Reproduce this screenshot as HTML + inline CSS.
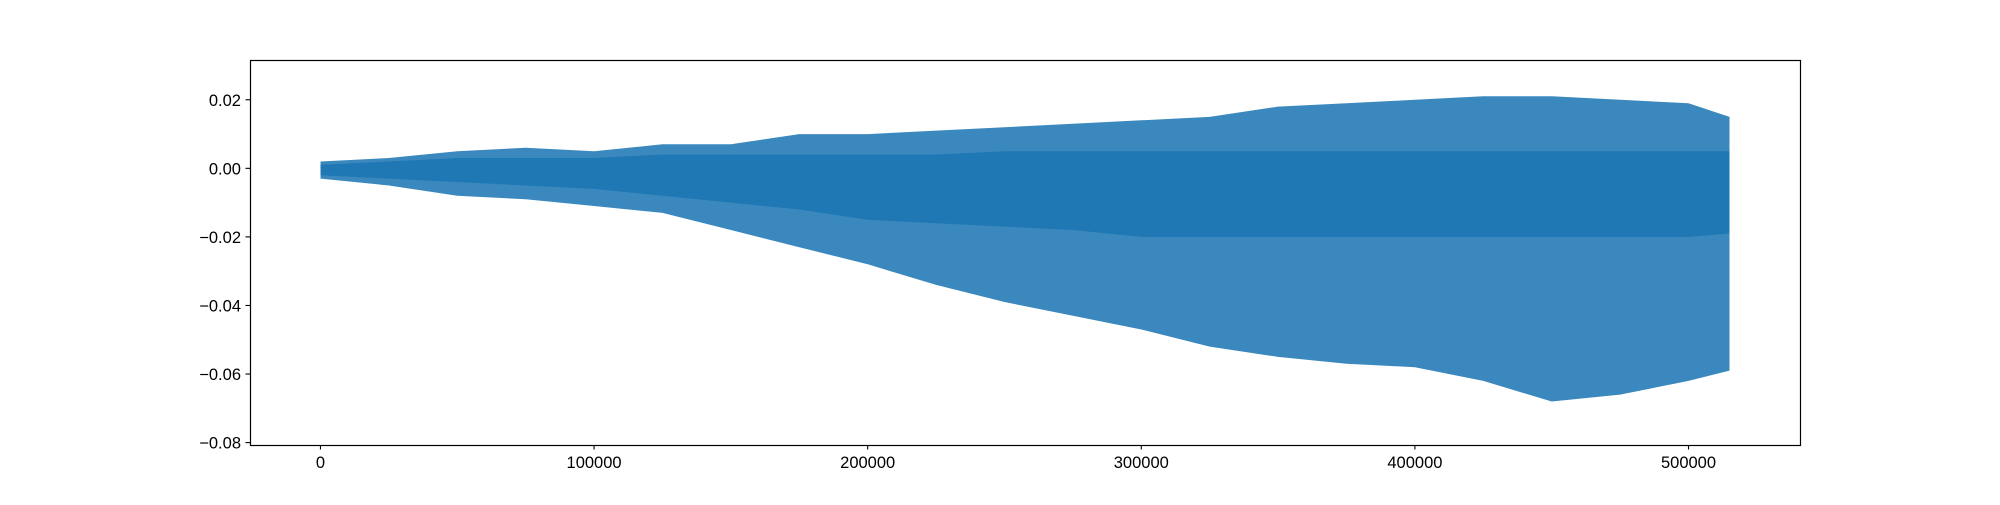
<!DOCTYPE html>
<html><head><meta charset="utf-8"><style>
html,body{margin:0;padding:0;background:#fff;}
svg text{font-family:"Liberation Sans","DejaVu Sans",sans-serif;font-size:16.5px;fill:#000;}
</style></head><body>
<svg id="chart" width="2000" height="500" xmlns="http://www.w3.org/2000/svg">
<g id="marks"></g>
<rect x="250.5" y="60.5" width="1550" height="385" fill="none" stroke="#000" stroke-width="1.2"/>
<g id="xaxis"></g>
<g id="yaxis"></g>
</svg>
<script>
const sampleX = [0,25000,50000,75000,100000,125000,150000,175000,200000,225000,250000,275000,300000,325000,350000,375000,400000,425000,450000,475000,500000,515000];
const upperEnv = [0.002,0.003,0.005,0.006,0.005,0.007,0.007,0.010,0.010,0.011,0.012,0.013,0.014,0.015,0.018,0.019,0.020,0.021,0.021,0.020,0.019,0.015];
const lowerEnv = [-0.003,-0.005,-0.008,-0.009,-0.011,-0.013,-0.018,-0.023,-0.028,-0.034,-0.039,-0.043,-0.047,-0.052,-0.055,-0.057,-0.058,-0.062,-0.068,-0.066,-0.062,-0.059];
const coreUpper = [0.001,0.002,0.003,0.003,0.003,0.004,0.004,0.004,0.004,0.004,0.005,0.005,0.005,0.005,0.005,0.005,0.005,0.005,0.005,0.005,0.005,0.005];
const coreLower = [-0.002,-0.003,-0.004,-0.005,-0.006,-0.008,-0.010,-0.012,-0.015,-0.016,-0.017,-0.018,-0.020,-0.020,-0.020,-0.020,-0.020,-0.020,-0.020,-0.020,-0.020,-0.019];
const xTicks = [0,100000,200000,300000,400000,500000];
const yTicks = [0.02,0.00,-0.02,-0.04,-0.06,-0.08];
const yTickLabels = ["0.02","0.00","\u22120.02","\u22120.04","\u22120.06","\u22120.08"];

const NS="http://www.w3.org/2000/svg";
const L=250,R=1800,T=60,B=445;
const xMin=-25750,xMax=540750,yMin=-0.0807,yMax=0.0316;
const xs=v=>L+(v-xMin)/(xMax-xMin)*(R-L);
const ys=v=>B-(v-yMin)/(yMax-yMin)*(B-T);
function mk(tag,attrs,parent){const e=document.createElementNS(NS,tag);for(const k in attrs)e.setAttribute(k,attrs[k]);parent.appendChild(e);return e;}
const marks=document.getElementById('marks');
function band(up,lo,op,name){
  let pts=[];
  for(let i=0;i<sampleX.length;i++)pts.push(xs(sampleX[i]).toFixed(1)+','+ys(up[i]).toFixed(1));
  for(let i=sampleX.length-1;i>=0;i--)pts.push(xs(sampleX[i]).toFixed(1)+','+ys(lo[i]).toFixed(1));
  const p=mk('polygon',{points:pts.join(' '),fill:'#1f77b4','fill-opacity':op},marks);
  
  
}
band(upperEnv,lowerEnv,0.88,'signal-envelope');
band(coreUpper,coreLower,1,'signal-core');
const xa=document.getElementById('xaxis');
xTicks.forEach(v=>{
  const x=xs(v);
  const t=mk('line',{x1:x,x2:x,y1:B,y2:B+4.5,stroke:'#000','stroke-width':1.1},xa);
  
  
  const tx=mk('text',{x:x,y:B+23,'text-anchor':'middle'},xa);tx.textContent=v;
  
  
});
const ya=document.getElementById('yaxis');
yTicks.forEach((v,i)=>{
  const y=ys(v);
  const t=mk('line',{x1:L-4.5,x2:L,y1:y,y2:y,stroke:'#000','stroke-width':1.1},ya);
  
  
  const tx=mk('text',{x:L-9,y:y+6,'text-anchor':'end'},ya);tx.textContent=yTickLabels[i];
  
  
});
</script>
</body></html>
